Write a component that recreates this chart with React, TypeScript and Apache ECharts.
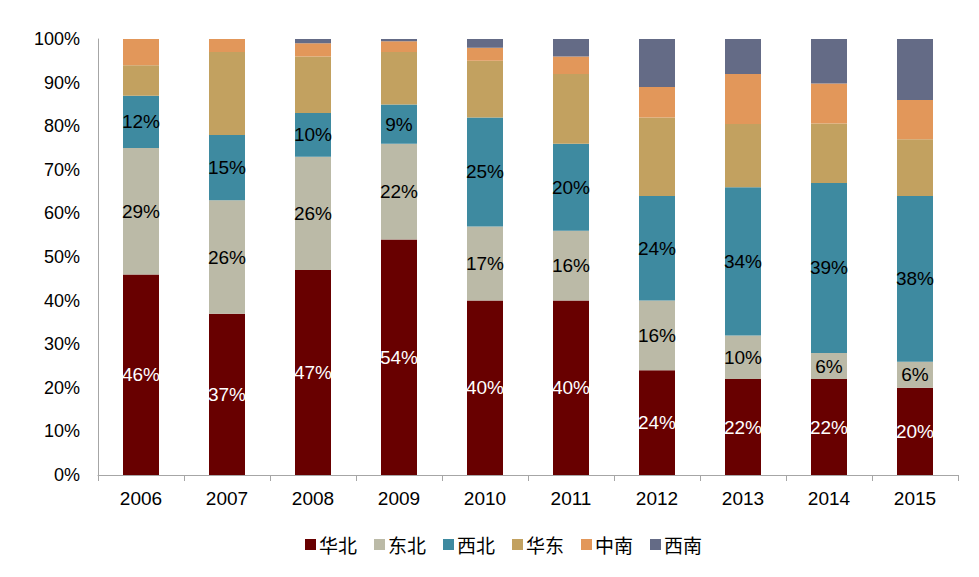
import React, { useEffect, useRef } from "react";
import * as echarts from "echarts";

const years = ["2006", "2007", "2008", "2009", "2010", "2011", "2012", "2013", "2014", "2015"];
const seriesNames = ["华北", "东北", "西北", "华东", "中南", "西南"];
const huabei = [46, 37, 47, 54, 40, 40, 24, 22, 22, 20];
const dongbei = [29, 26, 26, 22, 17, 16, 16, 10, 6, 6];
const xibei = [12, 15, 10, 9, 25, 20, 24, 34, 39, 38];
const huadong = [7, 19, 13, 12, 13, 16, 18, 14.5, 13.6, 13];
const zhongnan = [6, 3, 3, 2.5, 3, 4, 7, 11.5, 9.2, 9];
const xinan = [0, 0, 1, 0.5, 2, 4, 11, 8, 10.2, 14];
const yTicks = ["0%", "10%", "20%", "30%", "40%", "50%", "60%", "70%", "80%", "90%", "100%"];

const colors = ["#680000", "#BBBAA7", "#3E8AA0", "#C2A160", "#E2975A", "#646B86"];
const dataSets = [huabei, dongbei, xibei, huadong, zhongnan, xinan];
const labelColors = ["#FFFFFF", "#000000", "#000000", null, null, null];

export default function App() {
  const ref = useRef<HTMLDivElement>(null);
  useEffect(() => {
    if (!ref.current) return;
    const chart = echarts.init(ref.current, undefined, { renderer: "svg" });
    chart.setOption({
      animation: false,
      backgroundColor: "#FFFFFF",
      textStyle: { fontFamily: "Liberation Sans, Arial, sans-serif" },
      grid: { left: 98, right: 21, top: 39, bottom: 102, containLabel: false },
      legend: {
        left: 300,
        top: 530,
        itemWidth: 11,
        itemHeight: 11,
        itemGap: 17,
        icon: "rect",
        textStyle: {
          fontFamily: "Noto Sans CJK SC, sans-serif",
          fontSize: 19,
          color: "#000000",
          padding: [0, 0, 0, -2],
        },
        data: seriesNames,
      },
      xAxis: {
        type: "category",
        data: years,
        axisLine: { lineStyle: { color: "#A6A6A6", width: 1 } },
        axisTick: { show: true, length: 6, lineStyle: { color: "#A6A6A6" } },
        axisLabel: { color: "#000000", fontSize: 19, margin: 14 },
      },
      yAxis: {
        type: "value",
        min: 0,
        max: 100,
        interval: 10,
        splitLine: { show: false },
        axisLine: { show: true, lineStyle: { color: "#A6A6A6", width: 1 } },
        axisTick: { show: false },
        axisLabel: {
          color: "#000000",
          fontSize: 18,
          margin: 18,
          formatter: (v: number) => yTicks[Math.round(v / 10)],
        },
      },
      series: seriesNames.map((name, i) => ({
        name,
        type: "bar",
        stack: "total",
        barWidth: 36,
        itemStyle: { color: colors[i] },
        data: dataSets[i],
        label: labelColors[i]
          ? {
              show: true,
              position: "inside",
              color: labelColors[i],
              fontSize: 19,
              formatter: (p: any) => `${Math.round(p.value)}%`,
            }
          : { show: false },
      })),
    });
    return () => chart.dispose();
  }, []);
  return (
    <div
      ref={ref}
      style={{ position: "fixed", left: 0, top: 0, width: 979, height: 577 }}
    />
  );
}
